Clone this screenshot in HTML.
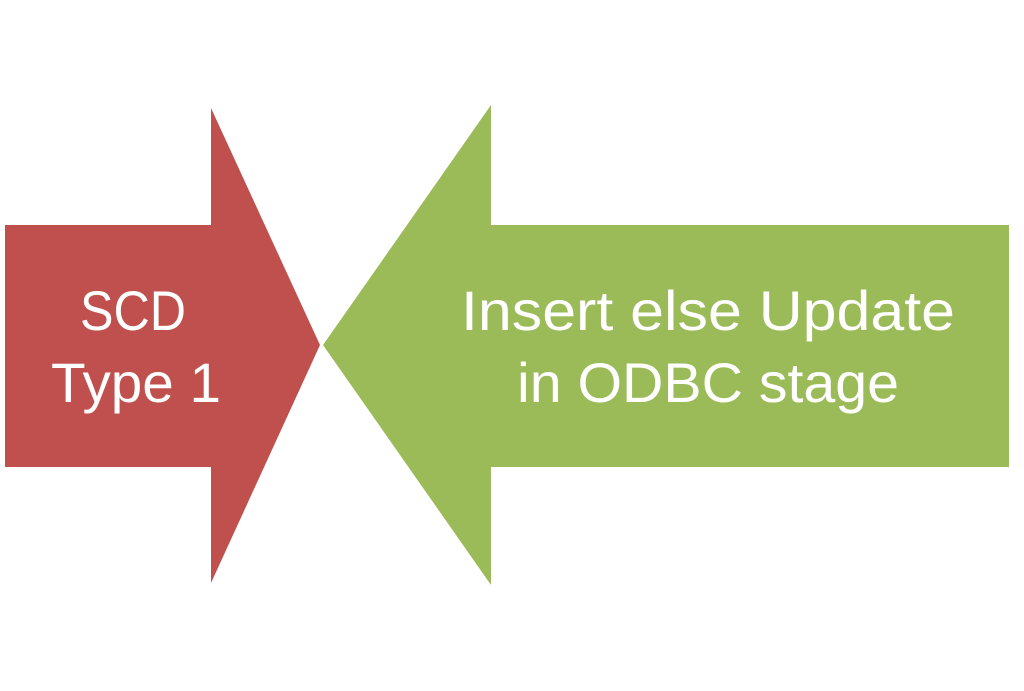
<!DOCTYPE html>
<html><head><style>html,body{margin:0;padding:0;background:#fff}svg{display:block}</style></head>
<body>
<svg width="1024" height="691" viewBox="0 0 1024 691" xmlns="http://www.w3.org/2000/svg">
<polygon points="5,225 211,225 211,108 320,345 211,583 211,467 5,467" fill="#C0504D"/>
<polygon points="323,345 491,105 491,225 1009,225 1009,467 491,467 491,585" fill="#9BBB59"/>
<g fill="#fff" font-family="Liberation Sans, sans-serif" font-size="56" text-anchor="middle">
<text x="133" y="330" textLength="106" lengthAdjust="spacingAndGlyphs">SCD</text>
<text x="136" y="402" textLength="170" lengthAdjust="spacingAndGlyphs">Type 1</text>
<text x="708" y="330" textLength="494" lengthAdjust="spacingAndGlyphs">Insert else Update</text>
<text x="708" y="402" textLength="382" lengthAdjust="spacingAndGlyphs">in ODBC stage</text>
</g>
</svg>
</body></html>
